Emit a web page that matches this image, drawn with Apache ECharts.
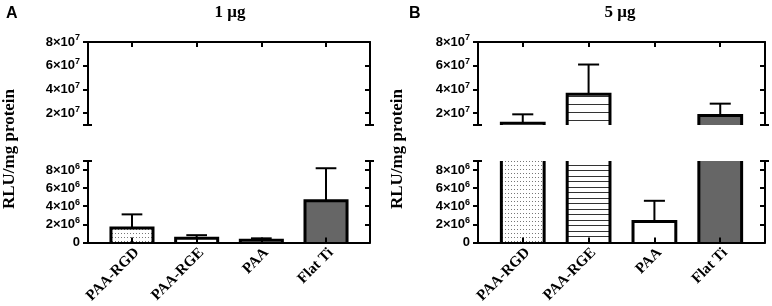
<!DOCTYPE html>
<html lang="en">
<head>
<meta charset="UTF-8">
<title>Luciferase expression</title>
<script src="https://cdn.jsdelivr.net/npm/echarts@6/dist/echarts.min.js"></script>
</head>
<body style="margin:0;background:#fff">
<div id="chart" style="width:772px;height:306px"></div>
<script>
var categories = ['PAA-RGD', 'PAA-RGE', 'PAA', 'Flat Ti'];
// 1 ug plasmid: mean and SD (RLU/mg protein)
var mean1 = [1.6e6, 0.45e6, 0.25e6, 4.6e6];
var sd1 = [1.5e6, 0.35e6, 0.2e6, 3.6e6];
// 5 ug plasmid
var mean5 = [1.15e7, 3.6e7, 2.3e6, 1.8e7];
var sd5 = [0.75e7, 2.5e7, 2.3e6, 1.0e7];
// broken axis: upper and lower parts
var upperRange = [1e7, 8e7];
var upperTicks = [2e7, 4e7, 6e7, 8e7];
var lowerRange = [0, 9e6];
var lowerTicks = [0, 2e6, 4e6, 6e6, 8e6];

function makePattern(w, h, draw) {
    var c = document.createElement('canvas');
    c.width = w; c.height = h;
    var ctx = c.getContext('2d');
    ctx.fillStyle = '#fff';
    ctx.fillRect(0, 0, w, h);
    draw(ctx);
    return { type: 'pattern', image: c, repeat: 'repeat' };
}
var dots = makePattern(3, 4, function (ctx) {
    ctx.fillStyle = '#777';
    ctx.fillRect(1, 1, 1, 1);
});
var stripesLow = makePattern(4, 11, function (ctx) {
    ctx.fillStyle = '#333';
    ctx.fillRect(0, 0, 4, 1);
    ctx.fillRect(0, 5, 4, 1);
});
var stripesHigh = makePattern(4, 8, function (ctx) {
    ctx.fillStyle = '#333';
    ctx.fillRect(0, 0, 4, 1);
});

function fillsFor(upper) {
    return [dots, upper ? stripesHigh : stripesLow, '#fff', '#666'];
}

function makeRender(range, upper) {
    var fills = fillsFor(upper);
    return function (params, api) {
        var i = api.value(0), m = api.value(1), sd = api.value(2);
        var lo = range[0], hi = range[1];
        var half = api.size([0.65, 0])[0] / 2;
        var capHalf = api.size([0.16, 0])[0];
        var base = api.coord([i, lo]);
        var cx = base[0], yBase = base[1];
        var l = cx - half, r = cx + half;
        var kids = [];
        var lineStyle = { stroke: '#000', lineWidth: 3, fill: null, lineJoin: 'miter' };
        if (m > lo) {
            var yTop = api.coord([i, Math.min(m, hi)])[1];
            kids.push({ type: 'rect', shape: { x: l, y: yTop, width: r - l, height: yBase - yTop },
                style: { fill: fills[i] } });
            if (m <= hi) {
                kids.push({ type: 'polyline', shape: { points: [[l, yBase], [l, yTop], [r, yTop], [r, yBase]] },
                    style: lineStyle });
            } else {
                kids.push({ type: 'line', shape: { x1: l, y1: yBase, x2: l, y2: yTop }, style: lineStyle });
                kids.push({ type: 'line', shape: { x1: r, y1: yBase, x2: r, y2: yTop }, style: lineStyle });
            }
        }
        var e0 = Math.max(m, lo), e1 = m + sd;
        if (e0 < hi && e1 > lo) {
            var y0 = api.coord([i, e0])[1];
            var y1 = api.coord([i, Math.min(e1, hi)])[1];
            kids.push({ type: 'line', shape: { x1: cx, y1: y0, x2: cx, y2: y1 },
                style: { stroke: '#000', lineWidth: 2 } });
            if (e1 <= hi) {
                kids.push({ type: 'line', shape: { x1: cx - capHalf, y1: y1, x2: cx + capHalf, y2: y1 },
                    style: { stroke: '#000', lineWidth: 2 } });
            }
        }
        return { type: 'group', children: kids };
    };
}

function sciLabel(v) {
    if (v === 0) return '{b|0}';
    var e = Math.floor(Math.log10(v) + 1e-9);
    var mant = Math.round(v / Math.pow(10, e));
    return '{b|' + mant + '×10}{s|' + e + '}';
}

var axisLine = { show: true, onZero: false, lineStyle: { color: '#000', width: 2 } };
var noLine = { show: false, onZero: false };
var grids = [], xAxes = [], yAxes = [], series = [];
var panels = [
    { left: 88, width: 282, mean: mean1, sd: sd1 },
    { left: 478, width: 287, mean: mean5, sd: sd5 }
];

panels.forEach(function (p) {
    [true, false].forEach(function (upper) {
        var g = grids.length;
        var range = upper ? upperRange : lowerRange;
        var ticks = upper ? [upperRange[0]].concat(upperTicks) : lowerTicks.concat([lowerRange[1]]);
        var cap = upper ? upperRange[0] : lowerRange[1];
        grids.push({ left: p.left, width: p.width, top: upper ? 42 : 161, height: 83 });
        xAxes.push({
            gridIndex: g, type: 'value', min: -0.68, max: 3.68,
            position: upper ? 'top' : 'bottom', z: 5,
            axisLine: axisLine,
            axisTick: { show: true, inside: true, length: 5, customValues: [0, 1, 2, 3],
                lineStyle: { color: '#000', width: 2 } },
            axisLabel: upper ? { show: false } : {
                customValues: [0, 1, 2, 3], rotate: 45, margin: 13, padding: [12, -7, 0, 0],
                formatter: function (v) { return categories[v]; },
                fontFamily: 'Liberation Serif', fontWeight: 'bold', fontSize: 15, color: '#000'
            },
            splitLine: { show: false }
        });
        // left axis with labels
        yAxes.push({
            gridIndex: g, type: 'value', min: range[0], max: range[1], position: 'left', z: 5,
            axisLine: axisLine,
            axisTick: { show: true, length: 5, customValues: ticks, lineStyle: { color: '#000', width: 2 } },
            axisLabel: {
                customValues: upper ? upperTicks : lowerTicks, formatter: sciLabel, margin: 8,
                rich: {
                    b: { fontFamily: 'Liberation Sans', fontWeight: 'bold', fontSize: 13, color: '#000' },
                    s: { fontFamily: 'Liberation Sans', fontWeight: 'bold', fontSize: 9, color: '#000',
                        padding: [0, 0, 8, 0] }
                }
            },
            splitLine: { show: false }
        });
        // left break cap
        yAxes.push({
            gridIndex: g, type: 'value', min: range[0], max: range[1], position: 'left', z: 5,
            axisLine: noLine,
            axisTick: { show: true, inside: true, length: 4, customValues: [cap],
                lineStyle: { color: '#000', width: 2 } },
            axisLabel: { show: false }, splitLine: { show: false }
        });
        // right mirror axis
        yAxes.push({
            gridIndex: g, type: 'value', min: range[0], max: range[1], position: 'right', z: 5,
            axisLine: axisLine,
            axisTick: { show: true, inside: true, length: 5, customValues: ticks,
                lineStyle: { color: '#000', width: 2 } },
            axisLabel: { show: false }, splitLine: { show: false }
        });
        // right break cap
        yAxes.push({
            gridIndex: g, type: 'value', min: range[0], max: range[1], position: 'right', z: 5,
            axisLine: noLine,
            axisTick: { show: true, length: 4, customValues: [cap], lineStyle: { color: '#000', width: 2 } },
            axisLabel: { show: false }, splitLine: { show: false }
        });
        series.push({
            type: 'custom', xAxisIndex: g, yAxisIndex: yAxes.length - 4, clip: false,
            renderItem: makeRender(range, upper),
            data: categories.map(function (c, i) { return [i, p.mean[i], p.sd[i]]; })
        });
    });
});

var chart = echarts.init(document.getElementById('chart'));
var option = {
    animation: false,
    grid: grids,
    xAxis: xAxes,
    yAxis: yAxes,
    series: series,
    graphic: [
        { type: 'text', left: 6, top: 6, style: { text: 'A', font: 'bold 16px "Liberation Sans"', fill: '#000' } },
        { type: 'text', left: 409, top: 6, style: { text: 'B', font: 'bold 16px "Liberation Sans"', fill: '#000' } },
        { type: 'text', x: 230, y: 13, style: { text: '1 μg', font: 'bold 17px "Liberation Serif"', fill: '#000',
            align: 'center', verticalAlign: 'middle' } },
        { type: 'text', x: 620, y: 13, style: { text: '5 μg', font: 'bold 17px "Liberation Serif"', fill: '#000',
            align: 'center', verticalAlign: 'middle' } },
        { type: 'text', x: 10, y: 149, rotation: Math.PI / 2, style: { text: 'RLU/mg protein',
            font: 'bold 17px "Liberation Serif"', fill: '#000', align: 'center', verticalAlign: 'middle' } },
        { type: 'text', x: 398, y: 149, rotation: Math.PI / 2, style: { text: 'RLU/mg protein',
            font: 'bold 17px "Liberation Serif"', fill: '#000', align: 'center', verticalAlign: 'middle' } }
    ]
};
chart.setOption(option);
</script>
</body>
</html>
